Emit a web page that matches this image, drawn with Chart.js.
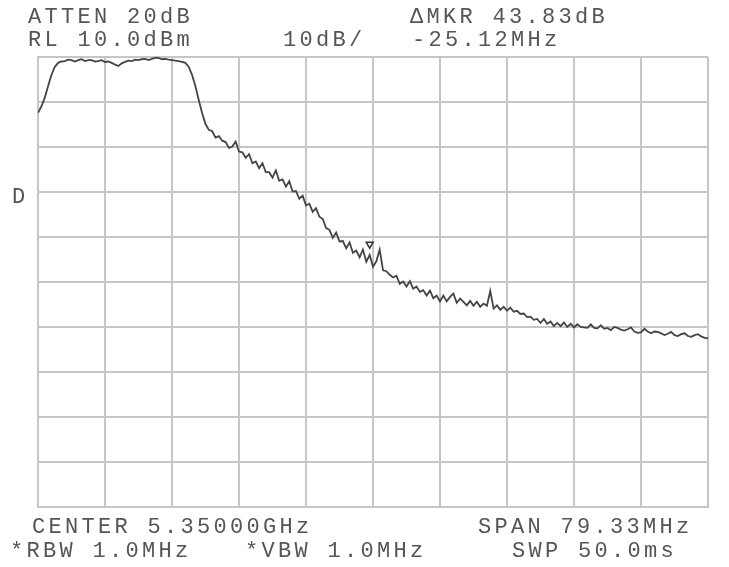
<!DOCTYPE html>
<html>
<head>
<meta charset="utf-8">
<script src="https://cdn.jsdelivr.net/npm/chart.js@4/dist/chart.umd.min.js"></script>
<style>
  body { margin: 0; background: #fff; }
  #wrap { position: relative; width: 729px; height: 567px; }
  canvas { position: absolute; left: 0; top: 0; }
  .lbl {
    position: absolute;
    font-family: "Liberation Mono", "DejaVu Sans Mono", monospace;
    font-size: 22px;
    letter-spacing: 3.3px;
    color: #555;
    white-space: pre;
    line-height: 22px;
  }
</style>
</head>
<body>
<div id="wrap">
  <canvas id="spec" width="729" height="567"></canvas>
  <div class="lbl" style="left:28px;top:7px">ATTEN 20dB</div>
  <div class="lbl" style="left:28px;top:30px">RL 10.0dBm</div>
  <div class="lbl" style="left:283px;top:30px">10dB/</div>
  <div class="lbl" style="left:410px;top:7px">ΔMKR 43.83dB</div>
  <div class="lbl" style="left:412px;top:30px">-25.12MHz</div>
  <div class="lbl" style="left:12px;top:187px">D</div>
  <div class="lbl" style="left:32px;top:517px">CENTER 5.35000GHz</div>
  <div class="lbl" style="left:478px;top:517px">SPAN 79.33MHz</div>
  <div class="lbl" style="left:10px;top:541px">*RBW 1.0MHz</div>
  <div class="lbl" style="left:245px;top:541px">*VBW 1.0MHz</div>
  <div class="lbl" style="left:512px;top:541px">SWP 50.0ms</div>
</div>
<script>
// trace, one value every 0.05 division (201 points)
const traceDb = [
  -2.4, -1.0, 0.9, 3.5, 6.0, 7.8, 8.7, 9.0, 9.1, 9.4,
  9.3, 9.0, 9.3, 9.5, 9.1, 9.3, 9.3, 9.0, 9.1, 9.3,
  8.9, 9.0, 8.7, 8.3, 8.0, 8.6, 8.9, 9.2, 9.1, 9.4,
  9.3, 9.5, 9.6, 9.3, 9.6, 9.8, 9.8, 9.5, 9.6, 9.4,
  9.3, 9.2, 9.1, 8.9, 8.7, 7.8, 6.0, 3.5, 0.4, -2.5,
  -4.9, -6.2, -6.5, -7.9, -7.6, -8.6, -8.9, -10.2, -9.9, -8.8,
  -11.0, -11.2, -12.4, -11.6, -13.6, -13.2, -14.7, -13.6, -15.6, -15.6,
  -16.8, -15.2, -17.5, -17.2, -18.8, -17.6, -19.9, -19.8, -21.5, -20.8,
  -23.0, -22.6, -24.4, -23.6, -25.5, -26.0, -28.0, -28.4, -30.2, -29.0,
  -31.0, -30.9, -32.5, -31.2, -33.5, -33.0, -34.5, -32.8, -35.5, -34.0,
  -36.6, -35.4, -32.8, -37.4, -37.6, -38.4, -39.0, -38.6, -40.4, -39.9,
  -41.0, -39.8, -41.5, -41.0, -42.2, -41.8, -43.0, -41.9, -43.6, -43.0,
  -44.3, -43.0, -44.3, -43.3, -42.6, -44.6, -43.7, -44.4, -45.2, -44.2,
  -45.3, -44.4, -45.5, -44.8, -45.3, -42.0, -45.9, -45.2, -46.2, -45.5,
  -46.4, -45.7, -46.6, -46.4, -47.1, -47.0, -47.8, -47.7, -48.4, -48.2,
  -49.1, -48.2, -49.3, -48.8, -49.8, -49.1, -49.8, -49.0, -50.0, -49.3,
  -50.1, -49.4, -50.0, -50.1, -50.2, -49.4, -50.2, -50.3, -49.6, -50.4,
  -50.2, -50.7, -50.0, -50.2, -50.6, -50.8, -50.5, -50.1, -51.0, -51.3,
  -51.2, -50.4, -51.0, -51.4, -51.0, -51.1, -51.4, -51.8, -51.5, -51.1,
  -51.8, -52.0, -51.6, -51.4, -52.0, -52.2, -51.8, -51.6, -52.1, -52.4,
  -52.5
];
const traceStep = 0.05; // divisions per trace point

// markers: reference (at peak) and delta marker
const markerX = [1.79, 4.95];
const markerDb = [11.6, -31.6];

// screen scale: 10 divisions across, ref level 10 dBm, 10 dB/div
const xDivs = [0, 10];
const refLevel = 10;
const dbPerDiv = 10;
const yDivs = 10;

const tracePoints = traceDb.map((v, i) => ({ x: i * traceStep, y: v }));
const markerPoints = markerX.map((x, i) => ({ x: x, y: markerDb[i] }));

const gridColor = '#c6c6c6';

new Chart(document.getElementById('spec'), {
  type: 'line',
  data: {
    datasets: [
      {
        data: tracePoints,
        borderColor: '#444',
        borderWidth: 1.8,
        pointRadius: 0,
        tension: 0,
        fill: false
      },
      {
        data: markerPoints,
        showLine: false,
        pointStyle: 'triangle',
        rotation: 180,
        pointRadius: 4,
        pointBackgroundColor: 'rgba(0,0,0,0)',
        pointBorderColor: '#333',
        pointBorderWidth: 1.5,
        clip: false
      }
    ]
  },
  options: {
    responsive: false,
    animation: false,
    layout: { padding: { left: 38, right: 21, top: 57, bottom: 60 } },
    plugins: { legend: { display: false }, tooltip: { enabled: false } },
    scales: {
      x: {
        type: 'linear',
        min: xDivs[0],
        max: xDivs[1],
        ticks: { display: false, stepSize: 1 },
        grid: { color: gridColor, lineWidth: 2, drawTicks: false },
        border: { color: gridColor, width: 2 }
      },
      y: {
        type: 'linear',
        min: refLevel - dbPerDiv * yDivs,
        max: refLevel,
        ticks: { display: false, stepSize: dbPerDiv },
        grid: { color: gridColor, lineWidth: 2, drawTicks: false },
        border: { color: gridColor, width: 2 }
      }
    }
  }
});
</script>
</body>
</html>
